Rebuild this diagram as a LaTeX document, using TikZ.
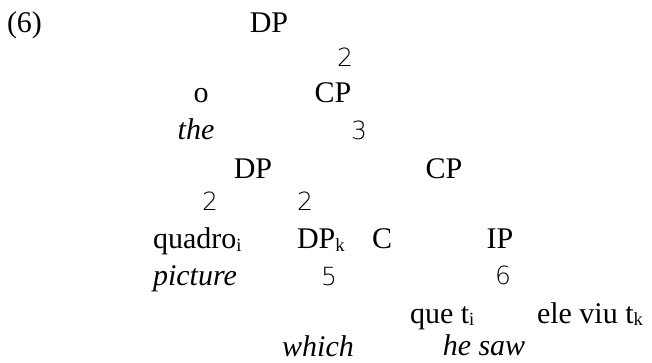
\documentclass[tikz,border=0pt]{standalone}
\usepackage{fontspec}
\setmainfont{Liberation Serif}
\newfontfamily\branchfont{DejaVu Sans ExtraLight}
\newcommand{\subidx}[1]{\raisebox{-0.15ex}{\scalebox{0.62}{#1}}}
\tikzset{
  lbl/.style={inner sep=0pt, outer sep=0pt, anchor=base, font=\fontsize{15}{18}\selectfont},
  lblw/.style={lbl, anchor=base west},
  gloss/.style={lbl, font=\fontsize{15}{18}\selectfont\itshape},
  branch/.style={inner sep=0pt, outer sep=0pt, anchor=base, font=\branchfont\fontsize{12.5}{15}\selectfont},
}
\begin{document}
\begin{tikzpicture}[x=0.5pt, y=-0.5pt]
  \useasboundingbox (0,0) rectangle (652,363);
  % example number
  \node[lblw] (num) at (7,33) {(6)};
  % root
  \node[lbl] (dp0) at (269,33) {DP};
  \node[branch] (b0) at (345,67) {2};
  \node[lbl] (det) at (201,103) {o};
  \node[gloss] (detg) at (196,140) {the};
  \node[lbl] (cp1) at (333,103) {CP};
  \node[branch] (b1) at (359,140) {3};
  % relative clause
  \node[lbl] (dp1) at (253,178) {DP};
  \node[lbl] (cp2) at (444,178) {CP};
  \node[branch] (b2) at (210,211) {2};
  \node[branch] (b3) at (305,211) {2};
  \node[lblw] (noun) at (153,249) {quadro\subidx{i}};
  \node[gloss] (noung) at (195,285) {picture};
  \node[lblw] (dpk) at (297,249) {DP\subidx{k}};
  \node[lbl] (comp) at (382,249) {C};
  \node[lbl] (ip) at (500,249) {IP};
  \node[branch] (b4) at (329,285) {5};
  \node[branch] (b5) at (503,284) {6};
  \node[lblw] (que) at (410,323) {que t\subidx{i}};
  \node[lblw] (ele) at (537,323) {ele viu t\subidx{k}};
  \node[gloss] (whichg) at (318,356) {which};
  \node[gloss] (hesaw) at (484,355) {he saw};
\end{tikzpicture}
\end{document}
